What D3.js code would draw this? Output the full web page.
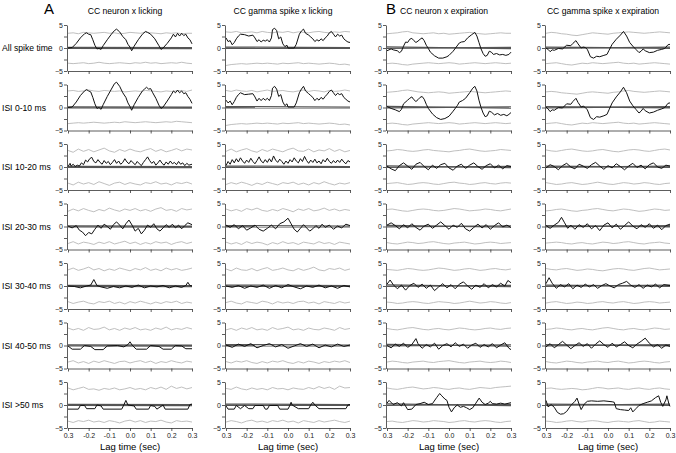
<!DOCTYPE html>
<html>
<head>
<meta charset="utf-8">
<script src="https://cdn.jsdelivr.net/npm/d3@7"></script>
<style>
body{margin:0;background:#fff;font-family:"Liberation Sans",Arial,sans-serif}
</style>
</head>
<body>
<svg id="svg1" width="676" height="453"></svg>
<script>
// column titles, row labels, ticks
var titles = ["CC neuron x licking","CC gamma spike x licking","CC neuron x expiration","CC gamma spike x expiration"]
var rowNames = ["All spike time","ISI 0-10 ms","ISI 10-20 ms","ISI 20-30 ms","ISI 30-40 ms","ISI 40-50 ms","ISI >50 ms"]
var xTicks = [-0.3,-0.2,-0.1,0,0.1,0.2,0.3]
var xTickLabels = ["0.3","-0.2","-0.1","0.0","0.1","0.2","0.3"]
var yTicks = [-5,-2.5,0,2.5,5]

// lags of the confidence bands
var bandX = [-0.3,-0.275,-0.25,-0.225,-0.2,-0.175,-0.15,-0.125,-0.1,-0.075,-0.05,-0.025,0,0.025,0.05,0.075,0.1,0.125,0.15,0.175,0.2,0.225,0.25,0.275,0.3]

// upper / lower bands, one array per column, one variable per row
var hi1 = [
 [3.2,3.3,3.1,3.4,3.3,3.2,3.3,3.4,3.2,3.3,3.1,3.2,3.4,3.3,3.2,3.4,3.3,3.2,3.1,3.3,3.2,3.3,3.1,3.2,3.2],
 [3.5,3.4,3.6,3.3,3.4,3.5,3.3,3.6,3.4,3.3,3.5,3.4,3.6,3.3,3.5,3.4,3.3,3.5,3.6,3.4,3.3,3.5,3.4,3.6,3.5],
 [3.1,3.2,3.3,3.5,3.6,3.3,3.2,3.1,3.2,3.3,3.1,3.2,3.0,3.1,3.2,3.3,3.4,3.2,3.1,3.0,3.1,3.2,3.3,3.2,3.2],
 [3.2,3.4,3.3,3.1,3.0,2.8,2.7,2.9,3.1,3.3,3.2,3.1,3.0,3.2,3.3,3.4,3.5,3.4,3.3,3.2,3.3,3.4,3.5,3.4,3.3]]
var lo1 = [
 [-3.3,-3.4,-3.3,-3.2,-3.4,-3.3,-3.1,-3.3,-3.4,-3.3,-3.2,-3.3,-3.4,-3.2,-3.3,-3.1,-3.3,-3.2,-3.4,-3.3,-3.2,-3.3,-3.1,-3.3,-3.4],
 [-3.8,-3.6,-3.5,-3.4,-3.5,-3.4,-3.3,-3.4,-3.3,-3.4,-3.5,-3.3,-3.4,-3.3,-3.2,-3.4,-3.3,-3.4,-3.5,-3.4,-3.3,-3.4,-3.6,-3.5,-3.7],
 [-3.4,-3.3,-3.4,-3.6,-3.7,-3.5,-3.4,-3.3,-3.2,-3.3,-3.4,-3.3,-3.2,-3.3,-3.5,-3.4,-3.3,-3.2,-3.3,-3.4,-3.3,-3.2,-3.3,-3.4,-3.3],
 [-3.4,-3.3,-3.2,-3.4,-3.6,-3.7,-3.5,-3.3,-3.4,-3.2,-3.3,-3.4,-3.3,-3.2,-3.1,-3.3,-3.4,-3.3,-3.5,-3.4,-3.3,-3.2,-3.3,-3.4,-3.5]]
var hi2 = [
 [3.6,3.7,3.5,3.6,3.8,3.6,3.5,3.7,3.6,3.5,3.6,3.4,3.5,3.6,3.5,3.7,3.6,3.5,3.4,3.6,3.5,3.6,3.7,3.5,3.8],
 [3.7,3.5,3.8,3.6,3.5,3.7,3.4,3.6,3.8,3.5,3.6,3.7,3.5,3.4,3.6,3.8,3.5,3.7,3.6,3.4,3.7,3.5,3.6,3.8,3.6],
 [3.3,3.4,3.5,3.7,3.8,3.6,3.4,3.3,3.2,3.3,3.4,3.3,3.1,3.2,3.3,3.4,3.5,3.4,3.3,3.2,3.3,3.4,3.5,3.6,3.5],
 [3.4,3.5,3.4,3.2,3.1,3.0,2.9,3.1,3.3,3.4,3.3,3.2,3.1,3.3,3.4,3.6,3.7,3.5,3.4,3.3,3.4,3.5,3.6,3.5,3.4]]
var lo2 = [
 [-3.5,-3.4,-3.3,-3.4,-3.3,-3.2,-3.3,-3.4,-3.3,-3.2,-3.3,-3.1,-3.2,-3.3,-3.2,-3.1,-3.2,-3.3,-3.2,-3.1,-3.2,-3.0,-3.1,-3.2,-3.3],
 [-3.9,-3.7,-3.6,-3.5,-3.6,-3.5,-3.4,-3.5,-3.4,-3.5,-3.6,-3.4,-3.5,-3.4,-3.3,-3.5,-3.4,-3.5,-3.6,-3.5,-3.4,-3.5,-3.7,-3.6,-3.8],
 [-3.5,-3.4,-3.5,-3.7,-3.8,-3.6,-3.5,-3.4,-3.3,-3.4,-3.5,-3.4,-3.3,-3.4,-3.6,-3.5,-3.4,-3.3,-3.4,-3.5,-3.4,-3.3,-3.4,-3.5,-3.4],
 [-3.5,-3.4,-3.3,-3.5,-3.7,-3.8,-3.6,-3.4,-3.5,-3.3,-3.4,-3.5,-3.4,-3.3,-3.2,-3.4,-3.5,-3.4,-3.6,-3.5,-3.4,-3.3,-3.4,-3.5,-3.6]]
var hi3 = [
 [3.6,3.2,3.9,3.4,3.8,3.3,3.7,4.1,3.5,3.2,3.8,3.4,3.9,3.5,3.3,3.7,4.0,3.4,3.8,3.3,3.6,4.0,3.5,3.9,3.7],
 [3.4,3.9,3.3,3.7,4.0,3.5,3.2,3.8,3.4,3.9,3.6,3.3,3.8,4.1,3.5,3.4,3.9,3.3,3.7,3.5,4.0,3.4,3.8,3.3,3.6],
 [3.5,3.6,3.8,3.7,3.5,3.4,3.5,3.7,3.8,3.6,3.5,3.4,3.3,3.5,3.6,3.8,3.9,3.7,3.5,3.4,3.5,3.6,3.8,3.7,3.6],
 [3.7,3.5,3.4,3.6,3.8,3.9,3.7,3.5,3.4,3.5,3.7,3.8,3.6,3.4,3.3,3.5,3.7,3.8,3.7,3.5,3.4,3.6,3.8,3.9,3.7]]
var lo3 = [
 [-3.5,-3.9,-3.3,-3.7,-3.4,-3.8,-3.2,-3.6,-4.0,-3.5,-3.3,-3.8,-3.4,-3.7,-3.9,-3.4,-3.6,-3.2,-3.7,-3.5,-3.9,-3.4,-3.6,-3.3,-3.7],
 [-3.8,-3.4,-3.7,-3.3,-3.6,-4.0,-3.5,-3.8,-3.3,-3.6,-3.9,-3.4,-3.6,-3.3,-3.8,-3.5,-3.9,-3.4,-3.7,-3.2,-3.6,-3.9,-3.5,-3.7,-3.4],
 [-3.6,-3.5,-3.4,-3.6,-3.8,-3.7,-3.5,-3.4,-3.5,-3.7,-3.8,-3.6,-3.4,-3.3,-3.5,-3.6,-3.8,-3.7,-3.5,-3.4,-3.6,-3.7,-3.5,-3.4,-3.5],
 [-3.4,-3.6,-3.8,-3.7,-3.5,-3.4,-3.6,-3.8,-3.7,-3.5,-3.3,-3.5,-3.7,-3.8,-3.6,-3.4,-3.5,-3.7,-3.6,-3.4,-3.5,-3.7,-3.8,-3.6,-3.5]]
var hi4 = [
 [3.3,3.8,3.4,3.9,3.5,3.2,3.7,3.4,4.0,3.6,3.3,3.8,3.5,3.9,3.4,3.7,3.3,3.8,4.1,3.5,3.7,3.3,3.9,3.6,3.8],
 [3.8,3.4,3.7,3.3,3.9,3.6,4.0,3.5,3.3,3.7,3.4,3.9,3.6,3.2,3.8,3.5,3.9,3.4,3.6,4.0,3.5,3.8,3.4,3.7,3.5],
 [3.7,3.8,3.6,3.4,3.3,3.5,3.7,3.8,3.7,3.5,3.4,3.5,3.7,3.9,3.8,3.6,3.4,3.5,3.6,3.8,3.7,3.5,3.4,3.6,3.8],
 [3.4,3.5,3.7,3.8,3.6,3.4,3.3,3.5,3.6,3.8,3.9,3.7,3.5,3.4,3.6,3.8,3.7,3.5,3.3,3.4,3.6,3.8,3.7,3.5,3.6]]
var lo4 = [
 [-3.7,-3.3,-3.8,-3.4,-3.6,-3.9,-3.4,-3.7,-3.3,-3.8,-3.5,-3.2,-3.7,-3.4,-3.9,-3.5,-3.8,-3.3,-3.6,-3.4,-3.9,-3.5,-3.3,-3.7,-3.4],
 [-3.4,-3.8,-3.5,-3.9,-3.3,-3.7,-3.4,-3.6,-4.0,-3.5,-3.8,-3.3,-3.7,-3.5,-3.9,-3.4,-3.6,-3.8,-3.3,-3.7,-3.5,-3.9,-3.4,-3.6,-3.8],
 [-3.5,-3.7,-3.8,-3.6,-3.4,-3.5,-3.7,-3.6,-3.4,-3.3,-3.5,-3.7,-3.8,-3.6,-3.5,-3.4,-3.6,-3.8,-3.7,-3.5,-3.4,-3.5,-3.7,-3.6,-3.5],
 [-3.6,-3.5,-3.4,-3.5,-3.7,-3.8,-3.6,-3.5,-3.7,-3.8,-3.6,-3.4,-3.5,-3.7,-3.6,-3.4,-3.3,-3.5,-3.7,-3.8,-3.6,-3.5,-3.4,-3.6,-3.7]]
var hi5 = [
 [3.5,3.9,3.4,3.7,4.1,3.5,3.8,3.3,3.7,3.4,3.9,3.6,3.3,3.8,3.5,4.0,3.4,3.7,3.3,3.9,3.5,3.8,3.4,3.6,3.9],
 [3.7,3.3,3.9,3.5,3.4,3.8,3.3,3.7,4.0,3.4,3.6,3.9,3.5,3.3,3.8,3.4,3.7,4.1,3.5,3.3,3.8,3.6,3.9,3.4,3.7],
 [3.6,3.5,3.4,3.6,3.8,3.7,3.5,3.4,3.5,3.7,3.9,3.8,3.6,3.4,3.5,3.7,3.8,3.6,3.4,3.5,3.7,3.8,3.6,3.5,3.7],
 [3.8,3.6,3.5,3.7,3.8,3.6,3.4,3.5,3.7,3.6,3.4,3.3,3.5,3.7,3.8,3.7,3.5,3.4,3.6,3.8,3.9,3.7,3.5,3.6,3.7]]
var lo5 = [
 [-3.4,-3.8,-3.5,-3.3,-3.7,-3.9,-3.4,-3.6,-3.3,-3.8,-3.5,-3.9,-3.4,-3.7,-3.3,-3.6,-3.9,-3.5,-3.8,-3.4,-3.6,-3.3,-3.8,-3.5,-3.7],
 [-3.6,-3.3,-3.7,-3.9,-3.4,-3.6,-3.8,-3.3,-3.5,-3.9,-3.4,-3.7,-3.5,-3.8,-3.4,-3.3,-3.7,-3.5,-3.9,-3.4,-3.6,-3.8,-3.4,-3.7,-3.5],
 [-3.5,-3.6,-3.8,-3.7,-3.5,-3.4,-3.5,-3.7,-3.8,-3.6,-3.4,-3.5,-3.6,-3.8,-3.7,-3.5,-3.3,-3.5,-3.7,-3.6,-3.4,-3.5,-3.7,-3.8,-3.6],
 [-3.7,-3.5,-3.4,-3.6,-3.8,-3.7,-3.5,-3.6,-3.8,-3.7,-3.5,-3.4,-3.6,-3.7,-3.5,-3.4,-3.6,-3.8,-3.7,-3.5,-3.4,-3.5,-3.7,-3.6,-3.5]]
var hi6 = [
 [3.8,3.4,3.7,3.3,3.9,3.5,3.6,4.0,3.4,3.7,3.3,3.8,3.5,3.9,3.4,3.6,3.3,3.8,3.5,4.0,3.4,3.7,3.5,3.9,3.6],
 [3.4,3.7,3.3,3.8,3.5,3.9,3.4,3.6,3.3,3.9,3.5,3.7,4.0,3.4,3.6,3.3,3.8,3.5,3.4,3.8,3.6,3.3,3.9,3.5,3.7],
 [3.7,3.5,3.4,3.6,3.8,3.9,3.7,3.5,3.4,3.6,3.7,3.5,3.4,3.6,3.8,3.7,3.5,3.4,3.5,3.7,3.8,3.6,3.5,3.7,3.8],
 [3.5,3.6,3.8,3.7,3.5,3.4,3.6,3.7,3.5,3.4,3.6,3.8,3.9,3.7,3.5,3.4,3.6,3.7,3.5,3.4,3.6,3.8,3.7,3.5,3.6]]
var lo6 = [
 [-3.6,-3.3,-3.8,-3.5,-3.9,-3.4,-3.7,-3.3,-3.6,-3.9,-3.5,-3.4,-3.8,-3.5,-3.3,-3.7,-3.4,-3.9,-3.5,-3.7,-3.3,-3.6,-3.8,-3.4,-3.6],
 [-3.5,-3.8,-3.4,-3.6,-3.3,-3.7,-3.9,-3.5,-3.8,-3.4,-3.6,-3.3,-3.7,-3.9,-3.5,-3.8,-3.4,-3.6,-3.9,-3.5,-3.7,-3.4,-3.6,-3.3,-3.7],
 [-3.6,-3.4,-3.5,-3.7,-3.8,-3.6,-3.5,-3.4,-3.6,-3.7,-3.5,-3.4,-3.3,-3.5,-3.7,-3.8,-3.6,-3.5,-3.4,-3.6,-3.7,-3.6,-3.4,-3.5,-3.7],
 [-3.5,-3.7,-3.8,-3.6,-3.4,-3.5,-3.7,-3.8,-3.6,-3.5,-3.4,-3.6,-3.7,-3.5,-3.4,-3.6,-3.8,-3.7,-3.5,-3.4,-3.5,-3.7,-3.8,-3.6,-3.5]]
var hi7 = [
 [3.7,3.3,3.6,3.9,3.4,3.5,3.2,3.6,3.4,3.7,3.3,3.5,3.8,3.4,3.6,3.3,3.8,3.5,3.9,3.4,4.1,3.6,3.9,3.5,3.8],
 [3.6,3.4,3.9,3.5,3.3,3.7,3.4,3.6,3.3,3.8,3.5,3.6,3.3,3.7,3.5,3.4,3.8,3.5,4.0,3.6,3.9,3.4,4.1,3.7,3.8],
 [3.7,3.5,3.4,3.6,3.8,3.9,3.7,3.5,3.6,3.8,3.7,3.5,3.4,3.6,3.7,3.5,3.4,3.6,3.8,3.7,3.6,3.8,3.9,4.0,4.1],
 [3.6,3.7,3.5,3.4,3.5,3.6,3.5,3.3,3.4,3.6,3.8,3.7,3.5,3.6,3.7,3.5,3.4,3.6,3.7,3.5,3.4,3.6,3.7,3.5,3.4]]
var lo7 = [
 [-3.5,-3.8,-3.4,-3.6,-3.3,-3.7,-3.5,-3.8,-3.4,-3.6,-3.9,-3.5,-3.3,-3.7,-3.4,-3.8,-3.5,-3.6,-3.3,-3.7,-3.9,-3.4,-3.6,-3.5,-3.7],
 [-3.7,-3.4,-3.6,-3.9,-3.5,-3.3,-3.7,-3.5,-3.8,-3.4,-3.6,-3.3,-3.7,-3.5,-3.9,-3.4,-3.6,-3.8,-3.4,-3.7,-3.5,-3.3,-3.6,-3.8,-3.5],
 [-3.6,-3.5,-3.7,-3.8,-3.6,-3.4,-3.5,-3.7,-3.6,-3.4,-3.5,-3.6,-3.8,-3.7,-3.5,-3.4,-3.6,-3.7,-3.5,-3.4,-3.5,-3.7,-3.8,-3.6,-3.5],
 [-3.5,-3.6,-3.8,-3.7,-3.5,-3.4,-3.6,-3.7,-3.5,-3.4,-3.5,-3.7,-3.8,-3.6,-3.5,-3.6,-3.7,-3.5,-3.4,-3.6,-3.8,-3.7,-3.5,-3.6,-3.7]]

// shuffled means near zero: [value at -0.3, value at 0.3], two lines per panel, per column
var meanA = [[0.15,0.05],[0.2,0.1],[0.25,-0.15],[0.2,-0.05]]
var meanB = [[-0.1,-0.15],[-0.05,-0.1],[-0.1,0.15],[-0.1,0.2]]

// cross-correlation traces [lag, z]
var trace1 = [
 [[-0.3,0],[-0.28,0.1],[-0.26,1],[-0.24,2.2],[-0.22,3.1],[-0.21,3.3],[-0.2,3.0],[-0.19,2.9],[-0.18,1.8],[-0.17,0.6],[-0.16,-0.2],[-0.15,-0.1],[-0.14,-0.3],[-0.13,0.5],[-0.11,1.8],[-0.09,3.0],[-0.075,3.8],[-0.065,4.1],[-0.05,3.5],[-0.035,2.5],[-0.02,1.8],[-0.01,0.8],[0,0.2],[0.008,-0.6],[0.02,0.4],[0.04,1.8],[0.06,3.0],[0.075,3.6],[0.085,3.4],[0.1,3.0],[0.12,2.0],[0.14,0.5],[0.15,-0.3],[0.16,0],[0.18,1.0],[0.2,2.2],[0.21,3.0],[0.22,2.4],[0.23,3.2],[0.24,2.6],[0.25,3.2],[0.26,2.7],[0.27,3.0],[0.28,2.2],[0.29,1.8],[0.3,0.9]],
 [[-0.3,2.2],[-0.29,1.4],[-0.28,1.6],[-0.27,0.7],[-0.26,1.2],[-0.25,2.0],[-0.24,2.6],[-0.23,3.0],[-0.21,2.9],[-0.19,2.6],[-0.17,2.8],[-0.16,2.2],[-0.15,1.4],[-0.14,1.8],[-0.13,1.3],[-0.12,1.7],[-0.11,1.5],[-0.1,1.8],[-0.09,1.3],[-0.08,2.2],[-0.075,4.0],[-0.065,4.3],[-0.055,3.8],[-0.045,2.0],[-0.035,2.4],[-0.025,0.9],[-0.015,0.3],[-0.005,0.6],[0,0],[0.03,0],[0.04,0.8],[0.055,3.0],[0.065,3.7],[0.075,4.1],[0.085,3.2],[0.1,2.8],[0.11,2.4],[0.12,2.0],[0.13,1.4],[0.14,1.8],[0.15,1.5],[0.16,2.0],[0.17,1.6],[0.18,2.2],[0.19,2.6],[0.2,3.3],[0.21,3.6],[0.22,3.0],[0.23,2.4],[0.24,3.0],[0.25,2.6],[0.26,2.8],[0.27,2.0],[0.28,1.6],[0.29,1.3],[0.3,1.2]],
 [[-0.3,-0.6],[-0.28,-0.2],[-0.27,-0.4],[-0.25,-0.6],[-0.24,-1.0],[-0.23,-0.7],[-0.22,0.4],[-0.21,1.3],[-0.2,1.2],[-0.19,1.9],[-0.18,2.1],[-0.17,1.6],[-0.16,1.2],[-0.15,1.5],[-0.14,1.9],[-0.13,2.2],[-0.12,1.6],[-0.11,0.6],[-0.1,-0.1],[-0.09,-0.9],[-0.07,-1.7],[-0.05,-2.2],[-0.03,-2.2],[-0.01,-1.9],[0,-1.6],[0.02,-0.7],[0.035,0.2],[0.05,1.1],[0.06,1.3],[0.075,1.4],[0.09,2.2],[0.11,2.9],[0.125,3.4],[0.135,2.6],[0.145,1.2],[0.155,-0.2],[0.165,-1.2],[0.175,-1.8],[0.185,-1.6],[0.195,-0.7],[0.205,-0.9],[0.215,-1.4],[0.23,-1.2],[0.245,-1.5],[0.26,-1.4],[0.275,-1.6],[0.29,-1.4],[0.3,-0.9]],
 [[-0.3,0],[-0.29,-0.3],[-0.28,-0.8],[-0.27,-0.4],[-0.26,-0.5],[-0.24,-0.1],[-0.22,-0.2],[-0.2,0.6],[-0.18,0.5],[-0.17,1.0],[-0.155,1.6],[-0.145,0.9],[-0.13,0],[-0.12,0.2],[-0.11,0.1],[-0.1,-0.3],[-0.085,-1.9],[-0.07,-2.2],[-0.055,-1.8],[-0.04,-1.9],[-0.02,-1.6],[-0.005,-1.4],[0.005,-0.5],[0.02,0.8],[0.04,1.9],[0.06,2.8],[0.075,3.6],[0.09,2.6],[0.105,1.2],[0.12,0.4],[0.135,-0.3],[0.15,-1.0],[0.16,-0.7],[0.17,-0.2],[0.18,-0.6],[0.2,-1.0],[0.22,-0.9],[0.24,-0.5],[0.26,-0.3],[0.275,-0.1],[0.29,0.7],[0.3,0.8]]]
var trace2 = [
 [[-0.3,0],[-0.28,0.1],[-0.26,1.2],[-0.24,2.6],[-0.22,3.6],[-0.21,3.9],[-0.2,3.6],[-0.19,3.4],[-0.18,2.2],[-0.17,0.8],[-0.16,-0.2],[-0.15,0],[-0.14,-0.4],[-0.13,0.6],[-0.11,2.4],[-0.09,4.0],[-0.075,5.2],[-0.065,5.5],[-0.05,4.6],[-0.035,3.2],[-0.02,2.2],[-0.01,1.0],[0,0.2],[0.008,-0.6],[0.02,0.6],[0.04,2.2],[0.06,3.6],[0.07,4.0],[0.08,4.4],[0.09,4.0],[0.1,4.1],[0.11,3.2],[0.125,2.0],[0.14,0.5],[0.15,-0.2],[0.16,0.1],[0.18,1.4],[0.2,2.8],[0.21,3.6],[0.22,3.2],[0.23,3.8],[0.24,3.2],[0.25,3.6],[0.26,3.0],[0.27,3.2],[0.28,2.4],[0.29,1.8],[0.3,0.9]],
 [[-0.3,1.6],[-0.29,1.0],[-0.28,1.4],[-0.27,0.6],[-0.26,1.3],[-0.25,2.2],[-0.24,2.8],[-0.23,3.2],[-0.21,2.8],[-0.19,2.9],[-0.17,3.0],[-0.16,2.3],[-0.15,1.4],[-0.14,2.0],[-0.13,1.5],[-0.12,2.0],[-0.11,1.6],[-0.1,2.0],[-0.09,1.5],[-0.08,2.6],[-0.075,4.2],[-0.065,4.6],[-0.055,4.0],[-0.045,2.4],[-0.035,2.8],[-0.025,1.2],[-0.015,0.4],[-0.005,0.8],[0,0.1],[0.03,0.1],[0.04,1.0],[0.055,3.2],[0.065,4.0],[0.075,4.6],[0.085,3.6],[0.1,3.0],[0.11,2.6],[0.12,2.2],[0.13,1.5],[0.14,2.0],[0.15,1.6],[0.16,2.2],[0.17,1.8],[0.18,2.4],[0.19,2.9],[0.2,3.5],[0.21,3.8],[0.22,3.2],[0.23,2.6],[0.24,3.1],[0.25,2.8],[0.26,3.0],[0.27,2.2],[0.28,1.8],[0.29,1.4],[0.3,1.2]],
 [[-0.3,0.2],[-0.28,-0.2],[-0.26,-0.5],[-0.24,-0.9],[-0.23,-0.4],[-0.22,0.8],[-0.2,1.6],[-0.19,2.0],[-0.18,2.3],[-0.17,1.7],[-0.16,1.3],[-0.15,1.7],[-0.14,2.2],[-0.13,2.4],[-0.12,1.8],[-0.11,0.7],[-0.1,-0.2],[-0.08,-1.4],[-0.06,-2.2],[-0.04,-2.6],[-0.02,-2.4],[0,-1.9],[0.02,-0.8],[0.04,0.4],[0.05,1.2],[0.065,1.5],[0.08,2.0],[0.1,3.2],[0.115,4.2],[0.125,4.6],[0.135,3.6],[0.145,1.6],[0.155,0],[0.165,-1.2],[0.175,-2.0],[0.185,-1.8],[0.195,-0.8],[0.205,-1.0],[0.22,-1.6],[0.235,-1.3],[0.25,-1.7],[0.265,-1.5],[0.28,-1.8],[0.29,-1.5],[0.3,-1.1]],
 [[-0.3,0.1],[-0.29,-0.3],[-0.28,-0.9],[-0.27,-0.5],[-0.26,-0.6],[-0.24,0],[-0.22,-0.1],[-0.2,0.8],[-0.18,0.7],[-0.17,1.3],[-0.155,2.0],[-0.145,1.1],[-0.13,0.1],[-0.12,0.3],[-0.11,0],[-0.1,-0.5],[-0.085,-2.2],[-0.07,-2.6],[-0.055,-2.0],[-0.04,-2.1],[-0.02,-1.8],[-0.005,-1.5],[0.005,-0.5],[0.02,1.0],[0.04,2.3],[0.06,3.4],[0.075,4.4],[0.09,3.2],[0.105,1.4],[0.12,0.4],[0.135,-0.4],[0.15,-1.2],[0.16,-0.8],[0.17,-0.2],[0.18,-0.7],[0.2,-1.2],[0.22,-1.0],[0.24,-0.6],[0.26,-0.3],[0.275,0],[0.29,0.9],[0.3,1.0]]]
var trace3 = [
 [[-0.3,0.1],[-0.29,0.8],[-0.285,0.2],[-0.275,0.6],[-0.265,0.1],[-0.255,0.4],[-0.245,0.2],[-0.235,0.9],[-0.225,0.5],[-0.215,1.5],[-0.205,1.1],[-0.195,1.8],[-0.185,2.1],[-0.175,1.2],[-0.165,0.9],[-0.155,1.6],[-0.145,1.0],[-0.135,0.6],[-0.125,1.4],[-0.115,0.8],[-0.105,1.2],[-0.095,0.5],[-0.085,1.0],[-0.075,1.6],[-0.065,0.8],[-0.055,1.3],[-0.045,0.6],[-0.035,1.0],[-0.025,1.8],[-0.015,1.1],[-0.005,0.7],[0.005,1.4],[0.015,0.9],[0.025,0.5],[0.035,1.2],[0.045,0.7],[0.055,0.3],[0.065,1.0],[0.075,1.6],[0.085,2.2],[0.095,1.4],[0.105,0.8],[0.115,1.2],[0.125,0.4],[0.135,0.9],[0.145,1.5],[0.155,0.8],[0.165,0.4],[0.175,1.1],[0.185,0.6],[0.195,1.3],[0.205,0.7],[0.215,1.0],[0.225,0.5],[0.235,1.2],[0.245,0.6],[0.255,0.9],[0.265,0.3],[0.275,0.8],[0.285,0.4],[0.3,0.6]],
 [[-0.3,0.3],[-0.29,1.2],[-0.28,0.6],[-0.27,1.6],[-0.26,0.9],[-0.25,1.8],[-0.24,1.1],[-0.23,2.0],[-0.22,1.3],[-0.21,0.8],[-0.2,1.5],[-0.19,1.0],[-0.18,1.9],[-0.17,1.2],[-0.16,0.7],[-0.15,1.4],[-0.14,2.2],[-0.13,1.3],[-0.12,0.9],[-0.11,1.6],[-0.1,1.0],[-0.09,1.8],[-0.08,1.1],[-0.07,2.4],[-0.06,1.5],[-0.05,1.0],[-0.04,1.7],[-0.03,1.2],[-0.02,0.6],[-0.01,1.3],[0,0.8],[0.01,1.6],[0.02,1.1],[0.03,2.0],[0.04,1.3],[0.05,0.9],[0.06,1.8],[0.07,1.2],[0.08,2.3],[0.09,1.4],[0.1,0.8],[0.11,1.5],[0.12,1.0],[0.13,1.7],[0.14,0.9],[0.15,1.3],[0.16,0.7],[0.17,1.6],[0.18,1.1],[0.19,1.9],[0.2,1.2],[0.21,0.8],[0.22,1.4],[0.23,0.9],[0.24,1.5],[0.25,1.0],[0.26,1.7],[0.27,1.1],[0.28,0.7],[0.29,1.4],[0.3,1.1]],
 [[-0.3,0.2],[-0.28,-0.4],[-0.26,-0.8],[-0.24,0.3],[-0.22,0.9],[-0.2,0.2],[-0.18,-0.5],[-0.16,0.6],[-0.14,1.0],[-0.12,0.1],[-0.1,-0.6],[-0.08,0.4],[-0.06,-0.3],[-0.04,0.5],[-0.02,0.8],[0,-0.2],[0.02,-0.7],[0.04,0.2],[0.06,0.6],[0.08,-0.3],[0.1,0.4],[0.12,0.9],[0.14,0.1],[0.16,-0.5],[0.18,0.3],[0.2,0.7],[0.22,-0.2],[0.24,0.4],[0.26,-0.4],[0.28,0.3],[0.3,0.1]],
 [[-0.3,-0.2],[-0.28,0.5],[-0.26,0.1],[-0.24,-0.6],[-0.22,0.3],[-0.2,0.8],[-0.18,0],[-0.16,-0.4],[-0.14,0.6],[-0.12,0.2],[-0.1,-0.3],[-0.08,0.5],[-0.06,1.0],[-0.04,0.2],[-0.02,-0.5],[0,0.3],[0.02,-0.2],[0.04,0.7],[0.06,0.1],[0.08,-0.6],[0.1,0.2],[0.12,0.8],[0.14,-0.1],[0.16,0.4],[0.18,-0.4],[0.2,0.5],[0.22,0.9],[0.24,0],[0.26,-0.3],[0.28,0.4],[0.3,0.2]]]
var trace4 = [
 [[-0.3,0.1],[-0.28,-0.3],[-0.26,0.2],[-0.245,-0.8],[-0.23,-1.2],[-0.215,-2.0],[-0.2,-1.3],[-0.185,-1.6],[-0.17,-0.6],[-0.155,0.3],[-0.14,-0.4],[-0.125,0.5],[-0.11,0],[-0.095,-0.6],[-0.08,0.4],[-0.065,1.0],[-0.05,0.3],[-0.035,-0.5],[-0.02,0.6],[-0.005,1.4],[0.01,0.3],[0.025,-1.0],[0.04,-0.4],[0.055,-1.6],[0.07,-0.8],[0.085,0.3],[0.1,-0.2],[0.115,0.6],[0.13,-0.5],[0.145,-1.0],[0.16,-0.3],[0.175,0.4],[0.19,-0.2],[0.205,0.5],[0.22,-0.3],[0.235,0.3],[0.25,-0.5],[0.265,0.2],[0.28,0.8],[0.3,0.4]],
 [[-0.3,0.3],[-0.28,-0.2],[-0.26,0.4],[-0.24,-0.5],[-0.22,0.2],[-0.2,-0.8],[-0.18,-0.3],[-0.16,0.3],[-0.14,-0.6],[-0.12,-1.0],[-0.1,-0.4],[-0.08,0.3],[-0.06,-0.5],[-0.04,0.6],[-0.02,1.0],[0,1.8],[0.015,0.6],[0.03,-0.6],[0.045,-1.2],[0.06,-0.4],[0.075,0.4],[0.09,-0.3],[0.105,-1.0],[0.12,-0.5],[0.135,0.2],[0.15,-0.4],[0.165,0.5],[0.18,-0.2],[0.2,0.3],[0.22,-0.6],[0.24,0.1],[0.26,-0.3],[0.28,0.5],[0.3,0.2]],
 [[-0.3,0.3],[-0.28,0.8],[-0.26,0.2],[-0.24,-0.5],[-0.22,0.4],[-0.2,-0.3],[-0.18,0.6],[-0.16,-0.2],[-0.14,-0.8],[-0.12,0.1],[-0.1,0.5],[-0.08,-0.4],[-0.06,0.3],[-0.04,1.0],[-0.02,0.2],[0,-0.6],[0.02,0.3],[0.04,-0.2],[0.06,0.7],[0.08,-0.5],[0.1,-1.0],[0.12,-0.2],[0.14,0.5],[0.16,-0.3],[0.18,0.4],[0.2,-0.6],[0.22,0.2],[0.24,0.8],[0.26,-0.1],[0.28,0.3],[0.3,-0.2]],
 [[-0.3,0.2],[-0.28,-0.4],[-0.26,0.3],[-0.24,0.9],[-0.225,2.0],[-0.21,0.8],[-0.195,-0.4],[-0.18,0.3],[-0.16,-0.6],[-0.14,0.4],[-0.12,-0.2],[-0.1,0.6],[-0.08,-0.5],[-0.06,0.2],[-0.04,-0.9],[-0.02,0.3],[0,0.8],[0.02,-0.3],[0.04,0.5],[0.06,-0.6],[0.08,0.2],[0.1,1.0],[0.12,0.1],[0.14,-0.5],[0.16,0.4],[0.18,-0.2],[0.2,0.6],[0.22,-0.4],[0.24,0.3],[0.26,-0.7],[0.28,0.2],[0.3,0.5]]]
var trace5 = [
 [[-0.3,0],[-0.27,-0.1],[-0.24,-0.4],[-0.21,0],[-0.19,0.2],[-0.175,1.4],[-0.16,0.1],[-0.14,-0.2],[-0.11,-0.5],[-0.08,-0.1],[-0.05,-0.4],[-0.02,0],[0.01,-0.3],[0.04,0.2],[0.07,-0.4],[0.1,0],[0.13,-0.2],[0.16,0.1],[0.19,-0.4],[0.22,0],[0.25,-0.3],[0.27,0.1],[0.28,0.8],[0.29,0.1],[0.3,0]],
 [[-0.3,0],[-0.27,-0.3],[-0.24,0.1],[-0.21,-0.5],[-0.18,0],[-0.15,-0.3],[-0.12,0.2],[-0.09,-0.5],[-0.06,0.1],[-0.03,-0.4],[0,0.3],[0.03,-0.2],[0.06,-0.6],[0.09,0],[0.12,-0.3],[0.15,0.2],[0.18,-0.4],[0.21,0],[0.24,-0.5],[0.27,0.1],[0.3,-0.2]],
 [[-0.3,0.4],[-0.285,1.3],[-0.27,0.3],[-0.25,-0.6],[-0.23,0.2],[-0.21,-0.9],[-0.19,0.1],[-0.17,0.6],[-0.15,-0.3],[-0.13,0.4],[-0.11,-0.5],[-0.09,0.2],[-0.07,-1.0],[-0.05,-0.2],[-0.03,0.5],[-0.01,-0.4],[0.01,0.3],[0.03,-0.6],[0.05,0.4],[0.07,0.9],[0.09,0],[0.11,-0.7],[0.13,0.2],[0.15,-0.3],[0.17,0.5],[0.19,-0.4],[0.21,0.3],[0.23,-0.2],[0.25,0.6],[0.27,0],[0.285,1.2],[0.3,0.7]],
 [[-0.3,0.5],[-0.285,1.8],[-0.27,0.6],[-0.25,-0.5],[-0.23,0.3],[-0.21,-0.2],[-0.19,0.5],[-0.17,-0.6],[-0.15,0.2],[-0.13,-0.3],[-0.11,0.4],[-0.09,-0.2],[-0.07,0.3],[-0.05,-0.5],[-0.03,0.1],[-0.01,0.5],[0.01,0],[0.03,-0.4],[0.05,0.3],[0.07,0.6],[0.09,1.0],[0.11,0.2],[0.13,-0.3],[0.15,0.3],[0.17,-0.5],[0.19,0.2],[0.21,-0.2],[0.23,0.4],[0.25,-0.4],[0.27,0.3],[0.3,0.1]]]
var trace6 = [
 [[-0.3,-0.1],[-0.28,-0.8],[-0.24,-0.8],[-0.22,0],[-0.19,-0.2],[-0.17,-0.9],[-0.13,-0.9],[-0.11,-0.1],[-0.06,0],[-0.03,-0.3],[-0.01,0.2],[0,0.8],[0.01,0.1],[0.03,-0.8],[0.08,-0.8],[0.1,0],[0.14,-0.2],[0.16,-0.8],[0.2,-0.8],[0.22,0],[0.25,-0.1],[0.27,-0.7],[0.3,-0.7]],
 [[-0.3,0.1],[-0.27,-0.4],[-0.24,0.3],[-0.21,-0.2],[-0.18,0.4],[-0.15,-0.5],[-0.12,0],[-0.09,0.4],[-0.06,-0.3],[-0.03,0.2],[0,-0.6],[0.03,-0.1],[0.06,0.4],[0.09,-0.2],[0.12,0.3],[0.15,-0.5],[0.18,0.1],[0.21,-0.3],[0.24,0.3],[0.27,-0.2],[0.3,0.1]],
 [[-0.3,0],[-0.28,-0.5],[-0.26,0.3],[-0.24,-0.2],[-0.22,0.5],[-0.2,-0.4],[-0.18,0.2],[-0.16,1.5],[-0.15,0.4],[-0.13,-0.6],[-0.11,0.2],[-0.09,-0.3],[-0.07,0.5],[-0.05,-0.8],[-0.03,0],[-0.01,0.4],[0.01,-0.3],[0.03,0.6],[0.05,-0.2],[0.07,0.3],[0.09,-0.6],[0.11,0.1],[0.13,0.5],[0.15,-0.4],[0.17,0.2],[0.19,-0.3],[0.21,0.4],[0.23,-0.5],[0.25,0.1],[0.27,0.6],[0.29,-0.6],[0.3,-0.9]],
 [[-0.3,-0.3],[-0.28,0.4],[-0.26,-0.5],[-0.24,0.2],[-0.22,0.9],[-0.2,0.1],[-0.18,-0.7],[-0.16,0],[-0.14,0.6],[-0.12,-0.2],[-0.1,0.4],[-0.08,-0.6],[-0.06,0.3],[-0.04,1.0],[-0.02,0.2],[0,-0.4],[0.02,0.5],[0.04,-0.3],[0.06,0.2],[0.08,0.8],[0.1,0],[0.12,-0.5],[0.14,0.3],[0.16,0.9],[0.18,1.6],[0.2,0.5],[0.22,-0.3],[0.24,0.2],[0.26,-0.6],[0.28,0.1],[0.3,-0.2]]]
var trace7 = [
 [[-0.3,-0.9],[-0.25,-0.9],[-0.24,-0.1],[-0.22,-0.1],[-0.21,-0.8],[-0.17,-0.8],[-0.16,0],[-0.14,-0.2],[-0.13,-0.9],[-0.04,-0.9],[-0.03,0],[-0.02,1.0],[-0.01,0],[0.02,-0.2],[0.03,-0.9],[0.09,-0.9],[0.1,-0.1],[0.12,-0.3],[0.13,-0.9],[0.15,-0.3],[0.16,0],[0.17,-0.9],[0.28,-0.9],[0.29,0.1],[0.3,0.2]],
 [[-0.3,-0.2],[-0.29,-0.9],[-0.26,-0.9],[-0.25,-0.1],[-0.23,-0.8],[-0.21,-0.1],[-0.19,-0.8],[-0.17,-0.8],[-0.16,-0.1],[-0.12,-0.1],[-0.11,-0.9],[-0.1,-0.9],[-0.09,-0.1],[-0.05,-0.1],[-0.04,-0.9],[0,-0.9],[0.01,0],[0.015,0.6],[0.02,0],[0.05,-0.8],[0.1,-0.8],[0.11,0],[0.12,0.6],[0.13,0],[0.15,-0.8],[0.28,-0.8],[0.29,0],[0.3,0.1]],
 [[-0.3,0.4],[-0.29,1.0],[-0.27,0.1],[-0.25,0.5],[-0.23,-0.2],[-0.22,0.5],[-0.2,-1.0],[-0.18,-0.9],[-0.16,0.1],[-0.14,0.3],[-0.12,0.6],[-0.1,0.1],[-0.08,0.3],[-0.06,1.6],[-0.045,2.5],[-0.035,2.0],[-0.02,1.3],[-0.01,1.0],[0,-0.5],[0.012,-1.5],[0.025,-0.6],[0.04,0],[0.055,-0.5],[0.07,-0.3],[0.085,-0.6],[0.1,-1.0],[0.115,-0.6],[0.13,0.4],[0.146,1.5],[0.16,0.6],[0.175,0.1],[0.19,0.4],[0.2,0.8],[0.21,0.3],[0.23,0.2],[0.25,0.4],[0.27,0.2],[0.3,0.5]],
 [[-0.3,1.0],[-0.29,-0.4],[-0.275,0.1],[-0.26,-0.5],[-0.245,-1.6],[-0.23,-2.0],[-0.215,-1.9],[-0.2,-1.4],[-0.18,-0.1],[-0.16,0.8],[-0.15,1.5],[-0.14,0.2],[-0.13,-1.0],[-0.115,0.2],[-0.1,0.8],[-0.08,0.9],[-0.05,0.8],[-0.02,0.9],[0,0.8],[0.02,0.7],[0.03,0.6],[0.04,-0.8],[0.06,-1.0],[0.08,-1.1],[0.1,-1.2],[0.11,-0.6],[0.12,-1.5],[0.135,-0.8],[0.15,-0.1],[0.17,0.3],[0.19,0.6],[0.21,0.9],[0.23,1.6],[0.245,2.0],[0.255,0.6],[0.265,-0.3],[0.28,1.1],[0.285,2.0],[0.295,0.2],[0.3,-0.3]]]

var traces = [trace1,trace2,trace3,trace4,trace5,trace6,trace7]
var his = [hi1,hi2,hi3,hi4,hi5,hi6,hi7]
var los = [lo1,lo2,lo3,lo4,lo5,lo6,lo7]

var colX = [68,226,387,546]
var panelW = 124
var rowTop = 25, rowStep = 59.5, panelH = 46
var font = "'Liberation Sans',Arial,sans-serif"

var svg = d3.select("#svg1").attr("font-family",font)

svg.append("text").attr("x",44).attr("y",14).attr("font-size",15).text("A")
svg.append("text").attr("x",386).attr("y",14).attr("font-size",15).text("B")

titles.forEach(function(t,c){
    svg.append("text")
        .attr("x",colX[c]+panelW/2-5)
        .attr("y",14)
        .attr("text-anchor","middle")
        .attr("font-size",8.6)
        .text(t)
})

rowNames.forEach(function(name,r){
    var top = rowTop + r*rowStep
    var y = d3.scaleLinear().domain([-5,5]).range([top+panelH, top])
    svg.append("text")
        .attr("x",2)
        .attr("y",y(0)+3)
        .attr("font-size",8.6)
        .text(name)

    for(var c=0;c<4;c++){
        var x = d3.scaleLinear().domain([-0.3,0.3]).range([colX[c], colX[c]+panelW])
        var g = svg.append("g")

        var line = d3.line()
            .x(function(d){ return x(d[0]) })
            .y(function(d){ return y(d[1]) })

        // bands
        var hiPts = bandX.map(function(v,i){ return [v, his[r][c][i]] })
        var loPts = bandX.map(function(v,i){ return [v, los[r][c][i]] })
        g.append("path").attr("d",line(hiPts)).attr("fill","none").attr("stroke","#b8b8b8").attr("stroke-width",0.9)
        g.append("path").attr("d",line(loPts)).attr("fill","none").attr("stroke","#b8b8b8").attr("stroke-width",0.9)

        // near-zero lines
        g.append("path").attr("d",line([[-0.3,meanA[c][0]],[0.3,meanA[c][1]]]))
            .attr("fill","none").attr("stroke","#555").attr("stroke-width",1.3)
        g.append("path").attr("d",line([[-0.3,meanB[c][0]],[0.3,meanB[c][1]]]))
            .attr("fill","none").attr("stroke","#555").attr("stroke-width",1.3)

        // trace
        g.append("path").attr("d",line(traces[r][c]))
            .attr("fill","none").attr("stroke","#111").attr("stroke-width",1)

        // axes
        var ya = g.append("g")
            .attr("transform","translate("+(colX[c]-1)+",0)")
            .call(d3.axisLeft(y).tickValues(yTicks).tickSize(3).tickSizeOuter(0)
                .tickFormat(function(d){ return d%5===0 ? d3.format("d")(d) : "" }))
        var xa = g.append("g")
            .attr("transform","translate(0,"+(top+panelH)+")")
            .call(d3.axisBottom(x).tickValues(xTicks).tickSize(3).tickSizeOuter(0)
                .tickFormat(function(d,i){ return r===6 ? xTickLabels[i] : "" }))
        ;[ya,xa].forEach(function(a){
            a.attr("font-family",font)
            a.selectAll("path,line").attr("stroke","#333").attr("stroke-width",0.8)
            a.selectAll("text").attr("font-size",7).attr("fill","#222")
        })
        ya.selectAll("text").attr("x",-4)
        xa.selectAll("text").attr("y",5)

        if(r===6){
            svg.append("text")
                .attr("x",colX[c]+panelW/2)
                .attr("y",450)
                .attr("text-anchor","middle")
                .attr("font-size",9.5)
                .text("Lag time (sec)")
        }
    }
})
</script>
</body>
</html>
